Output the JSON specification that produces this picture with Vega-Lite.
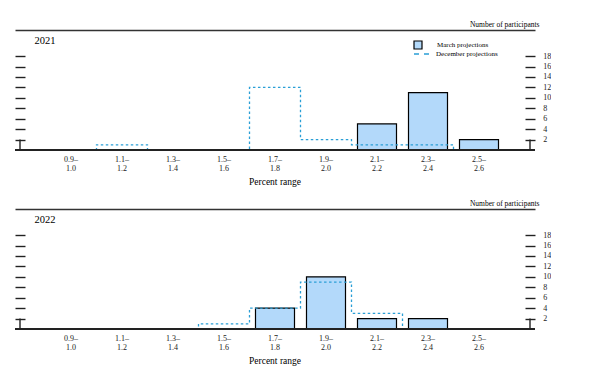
{
  "$schema": "https://vega.github.io/schema/vega-lite/v6.json",
  "padding": {"left": 14, "top": 20, "right": 0, "bottom": 0},
  "background": "white",
  "config": {
    "view": {"stroke": null},
    "font": "Liberation Serif",
    "axis": {"labelFont": "Liberation Serif", "titleFont": "Liberation Serif", "titleFontWeight": "normal", "titleColor": "black", "labelColor": "#222", "grid": false},
    "legend": {"labelFont": "Liberation Serif"}
  },
  "datasets": {
    "m21": [
      {"lower": 2.1, "n": 5, "survey": "March projections"},
      {"lower": 2.3, "n": 11, "survey": "March projections"},
      {"lower": 2.5, "n": 2, "survey": "March projections"}
    ],
    "d21": [
      {"lower": 0.9, "n": 0, "survey": "December projections"},
      {"lower": 1.1, "n": 1, "survey": "December projections"},
      {"lower": 1.3, "n": 0, "survey": "December projections"},
      {"lower": 1.5, "n": 0, "survey": "December projections"},
      {"lower": 1.7, "n": 12, "survey": "December projections"},
      {"lower": 1.9, "n": 2, "survey": "December projections"},
      {"lower": 2.1, "n": 1, "survey": "December projections"},
      {"lower": 2.3, "n": 1, "survey": "December projections"},
      {"lower": 2.5, "n": 0, "survey": "December projections"}
    ],
    "m22": [
      {"lower": 1.7, "n": 4, "survey": "March projections"},
      {"lower": 1.9, "n": 10, "survey": "March projections"},
      {"lower": 2.1, "n": 2, "survey": "March projections"},
      {"lower": 2.3, "n": 2, "survey": "March projections"}
    ],
    "d22": [
      {"lower": 0.9, "n": 0, "survey": "December projections"},
      {"lower": 1.1, "n": 0, "survey": "December projections"},
      {"lower": 1.3, "n": 0, "survey": "December projections"},
      {"lower": 1.5, "n": 1, "survey": "December projections"},
      {"lower": 1.7, "n": 4, "survey": "December projections"},
      {"lower": 1.9, "n": 9, "survey": "December projections"},
      {"lower": 2.1, "n": 3, "survey": "December projections"},
      {"lower": 2.3, "n": 0, "survey": "December projections"},
      {"lower": 2.5, "n": 0, "survey": "December projections"}
    ]
  },
  "spacing": 12,
  "vconcat": [
    {
      "width": 520, "height": 120,
      "layer": [
        {
          "data": {"name": "m21"},
          "mark": {"type": "bar", "width": 39, "stroke": "black", "strokeWidth": 1.2},
          "encoding": {
            "x": {"field": "lower", "type": "quantitative", "scale": {"domain": [0.7, 2.7], "nice": false, "zero": false},
              "axis": {"orient": "bottom", "values": [0.7, 0.9, 1.1, 1.3, 1.5, 1.7, 1.9, 2.1, 2.3, 2.5, 2.7], "zindex": 1, "translate": 0,
                "domainColor": "#222", "domainWidth": 1.8, "tickSize": -10.4, "tickWidth": 1.4, "tickColor": "#222",
                "tickOpacity": {"condition": {"test": "datum.value < 0.8 || datum.value > 2.6", "value": 1}, "value": 0},
                "labelExpr": "datum.value < 0.8 || datum.value > 2.6 ? '' : [format(datum.value, '.1f') + '–', format(datum.value + 0.1, '.1f')]",
                "labelFontSize": 8, "labelLineHeight": 8.6, "labelPadding": 16.6, "labelOverlap": false, "labelFlush": false,
                "title": "Percent range", "titleFontSize": 9.5, "titlePadding": 4}},
            "y": {"field": "n", "type": "quantitative", "scale": {"domain": [0, 23], "nice": false},
              "axis": {"orient": "left", "values": [2, 4, 6, 8, 10, 12, 14, 16, 18], "domain": false, "labels": false,
                "tickSize": -10, "tickWidth": 1.4, "tickColor": "#222",
                "title": "2021", "titleAngle": 0, "titleAlign": "left", "titleBaseline": "middle", "titleX": 19, "titleY": 10.5, "titleFontSize": 10.5}},
            "fill": {"field": "survey", "type": "nominal", "scale": {"range": ["#b3d9fa"]},
              "legend": {"orient": "none", "legendX": 398, "legendY": 10, "title": null, "padding": 0, "symbolType": "square", "symbolSize": 64,
                "symbolStrokeColor": "black", "symbolStrokeWidth": 1.2, "labelFontSize": 7, "labelOffset": 14}}
          }
        },
        {
          "data": {"name": "d21"},
          "mark": {"type": "line", "interpolate": "step", "strokeDash": [2.5, 2.5], "strokeWidth": 1.3},
          "encoding": {
            "x": {"field": "lower", "type": "quantitative",
              "axis": {"orient": "top", "domainColor": "#333", "domainWidth": 1.5, "ticks": false, "labels": false, "title": null}},
            "y": {"field": "n", "type": "quantitative",
              "axis": {"orient": "right", "values": [2, 4, 6, 8, 10, 12, 14, 16, 18], "domain": false,
                "tickSize": -10, "tickWidth": 1.4, "tickColor": "#222", "labelPadding": 17.7, "labelFontSize": 8, "labelColor": "#222",
                "title": "Number of participants", "titleAngle": 0, "titleAlign": "right", "titleBaseline": "alphabetic", "titleX": 4, "titleY": -4, "titleFontSize": 7.5}},
            "stroke": {"field": "survey", "type": "nominal", "scale": {"range": ["#2a9fd6"]},
              "legend": {"orient": "none", "legendX": 398, "legendY": 15.5, "title": null, "padding": 0, "symbolType": "stroke", "symbolSize": 225,
                "symbolDash": [5, 5], "symbolStrokeWidth": 1.5, "labelFontSize": 7, "labelOffset": 6}}
          }
        }
      ],
      "resolve": {"axis": {"x": "independent", "y": "independent"}}
    },
    {
      "width": 520, "height": 120,
      "layer": [
        {
          "data": {"name": "m22"},
          "mark": {"type": "bar", "width": 39, "stroke": "black", "strokeWidth": 1.2},
          "encoding": {
            "x": {"field": "lower", "type": "quantitative", "scale": {"domain": [0.7, 2.7], "nice": false, "zero": false},
              "axis": {"orient": "bottom", "values": [0.7, 0.9, 1.1, 1.3, 1.5, 1.7, 1.9, 2.1, 2.3, 2.5, 2.7], "zindex": 1, "translate": 0,
                "domainColor": "#222", "domainWidth": 1.8, "tickSize": -10.4, "tickWidth": 1.4, "tickColor": "#222",
                "tickOpacity": {"condition": {"test": "datum.value < 0.8 || datum.value > 2.6", "value": 1}, "value": 0},
                "labelExpr": "datum.value < 0.8 || datum.value > 2.6 ? '' : [format(datum.value, '.1f') + '–', format(datum.value + 0.1, '.1f')]",
                "labelFontSize": 8, "labelLineHeight": 8.6, "labelPadding": 16.6, "labelOverlap": false, "labelFlush": false,
                "title": "Percent range", "titleFontSize": 9.5, "titlePadding": 4}},
            "y": {"field": "n", "type": "quantitative", "scale": {"domain": [0, 23], "nice": false},
              "axis": {"orient": "left", "values": [2, 4, 6, 8, 10, 12, 14, 16, 18], "domain": false, "labels": false,
                "tickSize": -10, "tickWidth": 1.4, "tickColor": "#222",
                "title": "2022", "titleAngle": 0, "titleAlign": "left", "titleBaseline": "middle", "titleX": 19, "titleY": 10, "titleFontSize": 10.5}},
            "fill": {"field": "survey", "type": "nominal", "scale": {"range": ["#b3d9fa"]}}
          }
        },
        {
          "data": {"name": "d22"},
          "mark": {"type": "line", "interpolate": "step", "strokeDash": [2.5, 2.5], "strokeWidth": 1.3},
          "encoding": {
            "x": {"field": "lower", "type": "quantitative",
              "axis": {"orient": "top", "domainColor": "#333", "domainWidth": 1.5, "ticks": false, "labels": false, "title": null}},
            "y": {"field": "n", "type": "quantitative",
              "axis": {"orient": "right", "values": [2, 4, 6, 8, 10, 12, 14, 16, 18], "domain": false,
                "tickSize": -10, "tickWidth": 1.4, "tickColor": "#222", "labelPadding": 17.7, "labelFontSize": 8, "labelColor": "#222",
                "title": "Number of participants", "titleAngle": 0, "titleAlign": "right", "titleBaseline": "alphabetic", "titleX": 4, "titleY": -4, "titleFontSize": 7.5}},
            "stroke": {"field": "survey", "type": "nominal", "scale": {"range": ["#2a9fd6"]}}
          }
        }
      ],
      "resolve": {"axis": {"x": "independent", "y": "independent"}}
    }
  ]
}
